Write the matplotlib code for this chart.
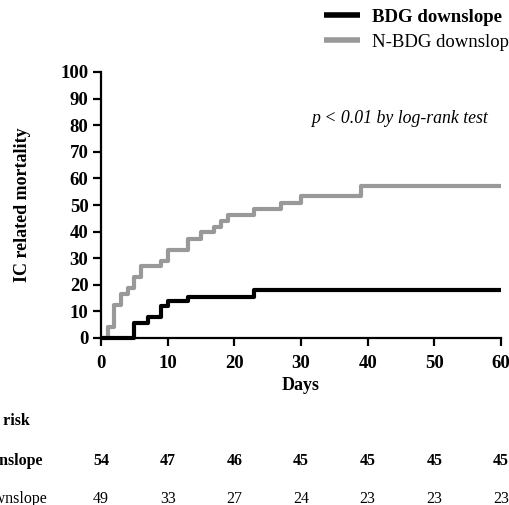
import matplotlib
matplotlib.use("Agg")
import matplotlib.pyplot as plt
from matplotlib.transforms import blended_transform_factory

# ---- data ----
bdg_days = [0, 5, 7, 9, 10, 13, 23, 60]
bdg_mort = [0, 5.6, 7.9, 12.0, 13.8, 15.6, 17.9, 17.9]

nbdg_days = [0, 1, 2, 3, 4, 5, 6, 9, 10, 13, 15, 17, 18, 19, 23, 27, 30, 39, 60]
nbdg_mort = [0, 4.1, 12.3, 16.6, 18.7, 22.9, 26.9, 29.1, 33.1, 37.2, 39.7, 41.9,
             43.9, 46.2, 48.5, 50.7, 53.5, 57.0, 57.0]

risk_days = [0, 10, 20, 30, 40, 50, 60]
risk_bdg = [54, 47, 46, 45, 45, 45, 45]
risk_nbdg = [49, 33, 27, 24, 23, 23, 23]

x_ticks = [0, 10, 20, 30, 40, 50, 60]
y_ticks = list(range(0, 101, 10))

label_bdg = "BDG downslope"
label_nbdg = "N-BDG downslope"

# ---- style ----
plt.rcParams['font.family'] = ['Liberation Serif', 'DejaVu Serif']
W, H = 510, 505
fig = plt.figure(figsize=(W / 100, H / 100), dpi=100)
ax = fig.add_axes([101 / W, 1 - 338 / H, 400 / W, 266 / H])

gray = '#999999'
l2, = ax.step(nbdg_days, nbdg_mort, where='post', color=gray, lw=3.0,
              clip_on=False, solid_capstyle='butt', zorder=3, label=label_nbdg)
l1, = ax.step(bdg_days, bdg_mort, where='post', color='black', lw=3.0,
              clip_on=False, solid_capstyle='butt', zorder=4, label=label_bdg)

ax.set_xlim(0, 60)
ax.set_ylim(0, 100)
ax.set_xticks(x_ticks)
ax.set_yticks(y_ticks)
for s in ['top', 'right']:
    ax.spines[s].set_visible(False)
for s in ['left', 'bottom']:
    ax.spines[s].set_linewidth(1.6)
ax.tick_params(axis='both', direction='out', length=6, width=1.6, labelsize=13.5)
ax.tick_params(axis='x', pad=6)
ax.tick_params(axis='y', pad=3)
for lab in ax.get_xticklabels() + ax.get_yticklabels():
    lab.set_fontweight('bold')

ax.set_xlabel('Days', fontsize=13, fontweight='bold', labelpad=4)
ax.set_ylabel('IC related mortality', fontsize=13, fontweight='bold', labelpad=21)

ax.text(0.968, 0.825, 'p < 0.01 by log-rank test', transform=ax.transAxes,
        ha='right', va='center', fontsize=12.8, style='italic')

leg = fig.legend(handles=[l1, l2], loc='upper left',
                 bbox_to_anchor=(317 / W, 1 - 1 / H), frameon=False,
                 fontsize=13.5, handlelength=1.9, handletextpad=0.65,
                 labelspacing=0.42, borderaxespad=0)
leg.get_texts()[0].set_fontweight('bold')
for h in leg.get_lines():
    h.set_linewidth(4.0)

# ---- number at risk table ----
trans = blended_transform_factory(ax.transData, fig.transFigure)
fs_tab = 11.5
fig.text(30 / W, 1 - 421 / H, 'Number at risk', ha='right', va='center',
         fontsize=fs_tab, fontweight='bold')
fig.text(43 / W, 1 - 461 / H, label_bdg, ha='right', va='center',
         fontsize=fs_tab, fontweight='bold')
fig.text(47 / W, 1 - 499 / H, label_nbdg, ha='right', va='center',
         fontsize=fs_tab)
for d, a, b in zip(risk_days, risk_bdg, risk_nbdg):
    ax.text(d, 1 - 461 / H, str(a), transform=trans, ha='center', va='center',
            fontsize=fs_tab, fontweight='bold')
    ax.text(d, 1 - 499 / H, str(b), transform=trans, ha='center', va='center',
            fontsize=fs_tab)

fig.savefig('out.png', dpi=100)
